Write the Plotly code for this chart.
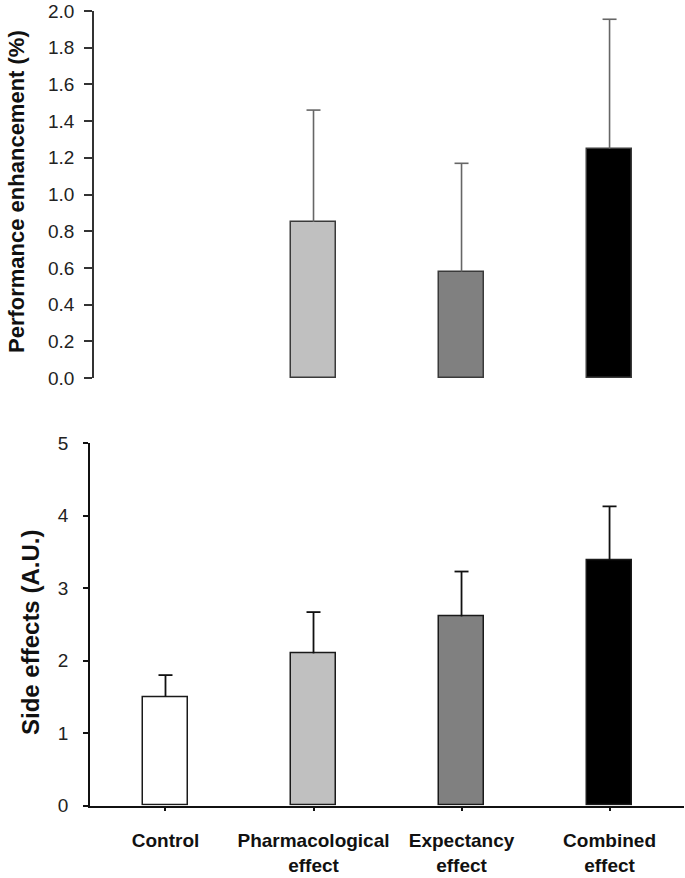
import plotly.graph_objects as go

categories = ["Control", "Pharmacological effect", "Expectancy effect", "Combined effect"]
bar_colors = ["#FFFFFF", "#C0C0C0", "#808080", "#000000"]

# Top panel: performance enhancement (%), Control has no bar
perf_mean = [None, 0.85, 0.58, 1.25]
perf_err = [None, 0.61, 0.59, 0.705]

# Bottom panel: side effects (A.U.)
side_mean = [1.50, 2.10, 2.61, 3.39]
side_err = [0.30, 0.57, 0.62, 0.74]

top_ticks = [0.0, 0.2, 0.4, 0.6, 0.8, 1.0, 1.2, 1.4, 1.6, 1.8, 2.0]
bottom_ticks = [0, 1, 2, 3, 4, 5]

W, H = 685, 878
xpos = list(range(len(categories)))
ticktext = [c.replace(" ", "<br>") for c in categories]
FONT = "Liberation Sans, Arial, sans-serif"


def add_panel(fig, means, errs, xa, ya, outline, err_color, err_w):
    fig.add_trace(go.Bar(
        x=xpos, y=means, width=0.31,
        marker=dict(color=bar_colors, line=dict(color=outline, width=1.5)),
        xaxis=xa, yaxis=ya, showlegend=False, hoverinfo="skip",
    ))
    # upward-only error bars: stem from bar top to mean+err, then a cap
    sx, sy, cx, cy = [], [], [], []
    for i, m, e in zip(xpos, means, errs):
        if m is None or e is None:
            continue
        sx += [i, i, None]
        sy += [m, m + e, None]
        cx.append(i)
        cy.append(m + e)
    fig.add_trace(go.Scatter(
        x=sx, y=sy, mode="lines", line=dict(color=err_color, width=err_w),
        xaxis=xa, yaxis=ya, showlegend=False, hoverinfo="skip",
    ))
    fig.add_trace(go.Scatter(
        x=cx, y=cy, mode="markers",
        marker=dict(symbol="line-ew", size=10, line=dict(color=err_color, width=err_w)),
        xaxis=xa, yaxis=ya, showlegend=False, hoverinfo="skip",
    ))


fig = go.Figure()
add_panel(fig, perf_mean, perf_err, "x", "y", "#3a3a3a", "#666666", 1.6)
add_panel(fig, side_mean, side_err, "x2", "y2", "#1a1a1a", "#111111", 1.8)

tick_font = dict(family=FONT, size=19, color="#222222")

fig.update_layout(
    width=W, height=H,
    margin=dict(l=0, r=0, t=0, b=0),
    paper_bgcolor="white", plot_bgcolor="white",
    bargap=0,
    xaxis=dict(domain=[94 / W, 684 / W], range=[-0.483, 3.503], anchor="y",
               showline=False, showticklabels=False, ticks="", showgrid=False,
               zeroline=False, automargin=False),
    yaxis=dict(domain=[1 - 378 / H, 1 - 11 / H], range=[0, 2.0], anchor="x",
               tickvals=top_ticks, ticktext=[f"{v:.1f}" for v in top_ticks],
               showline=True, linecolor="#333333", linewidth=1.5,
               ticks="outside", ticklen=8, tickcolor="#333333", tickwidth=1.5,
               showgrid=False, zeroline=False, tickfont=tick_font,
               ticklabelstandoff=6, automargin=False, ticklabeloverflow="allow"),
    xaxis2=dict(domain=[90 / W, 684 / W], range=[-0.51, 3.503], anchor="y2",
                tickvals=xpos, ticktext=ticktext,
                showline=True, linecolor="#111111", linewidth=1.5,
                ticks="outside", ticklen=4, tickcolor="#111111", tickwidth=1.5,
                showgrid=False, zeroline=False,
                tickfont=dict(family=FONT, size=19, color="#111111", weight="bold"),
                ticklabelstandoff=13, automargin=False, ticklabeloverflow="allow"),
    yaxis2=dict(domain=[1 - 805.5 / H, 1 - 443.3 / H], range=[0, 5], anchor="x2",
                tickvals=bottom_ticks,
                showline=True, linecolor="#111111", linewidth=1.5,
                ticks="outside", ticklen=5, tickcolor="#111111", tickwidth=1.5,
                showgrid=False, zeroline=False, tickfont=tick_font,
                ticklabelstandoff=11, automargin=False, ticklabeloverflow="allow"),
    annotations=[
        dict(text="<b>Performance enhancement (%)</b>", textangle=-90,
             xref="paper", yref="paper", x=16 / W, y=1 - 192 / H,
             xanchor="center", yanchor="middle", showarrow=False,
             font=dict(family=FONT, size=22, color="#111111")),
        dict(text="<b>Side effects (A.U.)</b>", textangle=-90,
             xref="paper", yref="paper", x=30 / W, y=1 - 633 / H,
             xanchor="center", yanchor="middle", showarrow=False,
             font=dict(family=FONT, size=24, color="#111111")),
    ],
)

fig.write_html("out.html")
